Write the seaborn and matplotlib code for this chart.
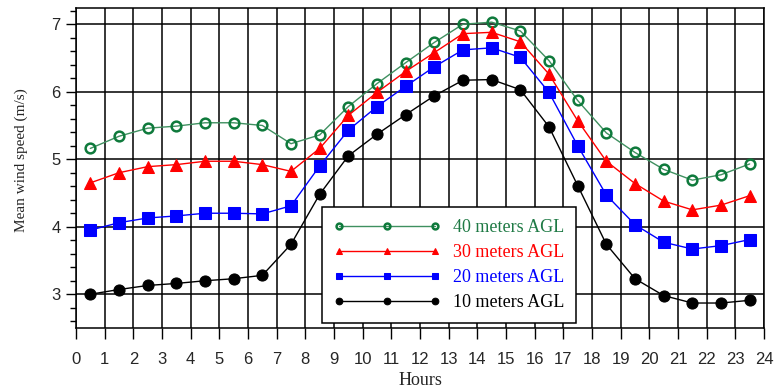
import numpy as np
import pandas as pd
import matplotlib
matplotlib.use("Agg")
import matplotlib.pyplot as plt
import seaborn as sns
from matplotlib.ticker import MultipleLocator

hours = [h + 0.5 for h in range(24)]

speed_40m = [5.16, 5.34, 5.46, 5.49, 5.54, 5.54, 5.50, 5.23, 5.36, 5.78, 6.12, 6.43,
             6.73, 7.00, 7.03, 6.90, 6.46, 5.87, 5.39, 5.10, 4.85, 4.69, 4.77, 4.93]
speed_30m = [4.65, 4.80, 4.89, 4.92, 4.97, 4.97, 4.92, 4.82, 5.16, 5.65, 5.99, 6.30,
             6.58, 6.86, 6.88, 6.74, 6.26, 5.57, 4.97, 4.64, 4.38, 4.25, 4.32, 4.46]
speed_20m = [3.95, 4.06, 4.13, 4.16, 4.20, 4.20, 4.19, 4.31, 4.90, 5.43, 5.78, 6.08,
             6.37, 6.62, 6.65, 6.51, 5.99, 5.20, 4.47, 4.03, 3.77, 3.67, 3.72, 3.81]
speed_10m = [3.00, 3.07, 3.13, 3.16, 3.20, 3.23, 3.28, 3.74, 4.48, 5.05, 5.37, 5.66,
             5.94, 6.17, 6.18, 6.03, 5.48, 4.61, 3.74, 3.23, 2.98, 2.87, 2.87, 2.91]

labels = ["40 meters AGL", "30 meters AGL", "20 meters AGL", "10 meters AGL"]
x_ticks = list(range(0, 25))
y_ticks = [3, 4, 5, 6, 7]

sns.set_style("white")
plt.rcParams["font.family"] = ["Liberation Sans", "DejaVu Sans"]

fig = plt.figure(figsize=(7.74, 3.91), dpi=100)
ax = fig.add_axes([76 / 774, 1 - 328 / 391, 688 / 774, 320 / 391])

series = [
    (speed_40m, labels[0], dict(color="#3f9060", marker="o", markersize=7,
                                markerfacecolor="none", markeredgecolor="#0f7a3c",
                                markeredgewidth=1.8), "#1f7a45"),
    (speed_30m, labels[1], dict(color="#ff0000", marker="^", markersize=8,
                                markerfacecolor="#ff0000", markeredgecolor="#ff0000"), "#ff0000"),
    (speed_20m, labels[2], dict(color="#0000ff", marker="s", markersize=8,
                                markerfacecolor="#0000ff", markeredgecolor="#0000ff"), "#0000ff"),
    (speed_10m, labels[3], dict(color="#000000", marker="o", markersize=8,
                                markerfacecolor="#000000", markeredgecolor="#000000"), "#000000"),
]

for values, name, style, _ in series:
    df = pd.DataFrame({"Hours": hours, "Speed": values})
    sns.lineplot(data=df, x="Hours", y="Speed", ax=ax, label=name,
                 linewidth=1.0, zorder=3, **style)

ax.set_xlim(0, 24)
ax.set_ylim(2.5, 7.24)
ax.set_xticks(x_ticks)
ax.set_yticks(y_ticks)
ax.yaxis.set_minor_locator(MultipleLocator(0.2))
ax.tick_params(axis="both", which="major", direction="out", length=7, width=1,
               color="black", labelsize=12, left=True, bottom=True, pad=4)
ax.tick_params(axis="y", which="minor", direction="out", length=4, width=1,
               color="black", left=True)
ax.tick_params(axis="x", which="major", length=8, pad=9)
ax.grid(True, which="major", color="black", linewidth=1.1)
for sp in ax.spines.values():
    sp.set_color("black")
    sp.set_linewidth(1.1)

ax.set_xlabel("Hours", family=["Liberation Serif"], fontsize=13, labelpad=4)
ax.set_ylabel("Mean wind speed (m/s)", family=["Liberation Serif"], fontsize=11)
ax.yaxis.set_label_coords(-0.07, 0.525)

leg = ax.legend(loc="lower left", bbox_to_anchor=(0.3576, 0.0156), frameon=True,
                fancybox=False, framealpha=1, edgecolor="black",
                handlelength=5.9, numpoints=3, markerscale=0.6,
                prop={"family": "Liberation Serif", "size": 13},
                labelspacing=0.45, borderpad=0.65, handletextpad=0.72,
                borderaxespad=0)
leg.get_frame().set_linewidth(1.1)
for text, (_, _, _, tcolor) in zip(leg.get_texts(), series):
    text.set_color(tcolor)

fig.savefig("out.png", dpi=100)
